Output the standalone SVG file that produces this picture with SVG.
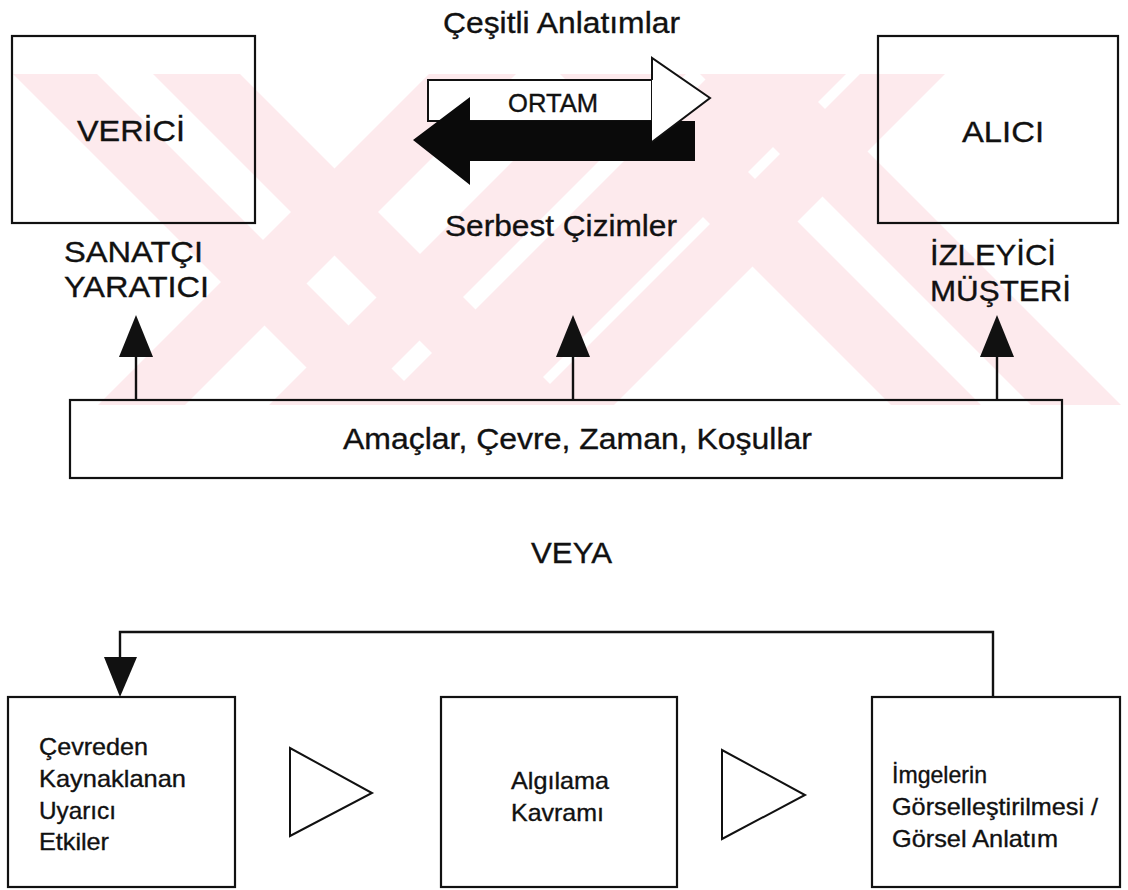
<svg xmlns="http://www.w3.org/2000/svg" width="1128" height="890" viewBox="0 0 1128 890">
<style>
.t{font-family:"Liberation Sans",Arial,Helvetica,sans-serif;fill:#111;stroke:#111;stroke-width:0.35;}
.big{font-size:30px;}
.sm{font-size:24px;}
.box{fill:none;stroke:#111;stroke-width:2.2;}
.ln{fill:none;stroke:#111;stroke-width:2.4;}
.wm{fill:#fdeaed;}
</style>
<defs>
<clipPath id="wmclip"><rect x="10" y="74" width="1118" height="331"/></clipPath>
</defs>
<rect width="1128" height="890" fill="#fff"/>
<g id="watermark" clip-path="url(#wmclip)">
<polygon class="wm" points="13,74 97,74 428,405 344,405"/>
<polygon class="wm" points="153,74 240,74 571,405 484,405"/>
<polygon class="wm" points="560,74 650,74 981,405 891,405"/>
<polygon class="wm" points="700,74 790,74 1121,405 1031,405"/>
<polygon class="wm" points="429,74 516,74 185,405 98,405"/>
<polygon class="wm" points="600,74 686,74 355,405 269,405"/>
<polygon class="wm" points="711,74 846,74 515,405 380,405"/>
<polygon class="wm" points="860,74 945,74 614,405 529,405"/>
</g>
<g id="title"><text class="t big" x="443" y="33" textLength="237" lengthAdjust="spacingAndGlyphs">Çeşitli Anlatımlar</text></g>
<g id="verici">
<rect class="box" x="12" y="36" width="243" height="187"/>
<text class="t big" x="77" y="141" textLength="108" lengthAdjust="spacingAndGlyphs">VERİCİ</text>
<text class="t big" x="64" y="262" textLength="139" lengthAdjust="spacingAndGlyphs">SANATÇI</text>
<text class="t big" x="64" y="297" textLength="145" lengthAdjust="spacingAndGlyphs">YARATICI</text>
</g>
<g id="alici">
<rect class="box" x="878" y="36" width="240" height="187"/>
<text class="t big" x="962" y="142" textLength="82" lengthAdjust="spacingAndGlyphs">ALICI</text>
<text class="t big" x="930" y="265" textLength="126" lengthAdjust="spacingAndGlyphs">İZLEYİCİ</text>
<text class="t big" x="930" y="301" textLength="141" lengthAdjust="spacingAndGlyphs">MÜŞTERİ</text>
</g>
<g id="ortam">
<rect x="428" y="80" width="224" height="41" fill="#fff" stroke="#111" stroke-width="2"/>
<polygon points="413,140 470,97 470,121 695,121 695,161 470,161 470,185" fill="#0a0a0a"/>
<polygon points="652,58 710,98 652,142" fill="#fff"/>
<path d="M652,80 V58 L710,98 L652,142" fill="none" stroke="#111" stroke-width="2"/>
<text class="t" x="508" y="112" font-size="25" textLength="90" lengthAdjust="spacingAndGlyphs">ORTAM</text>
</g>
<g id="serbest"><text class="t big" x="445" y="236" textLength="232" lengthAdjust="spacingAndGlyphs">Serbest Çizimler</text></g>
<g id="kosullar">
<rect class="box" x="70" y="400" width="992" height="78"/>
<text class="t big" x="343" y="449" textLength="469" lengthAdjust="spacingAndGlyphs">Amaçlar, Çevre, Zaman, Koşullar</text>
</g>
<g id="veya"><text class="t big" x="531" y="563" textLength="81" lengthAdjust="spacingAndGlyphs">VEYA</text></g>
<g id="box1">
<rect class="box" x="8" y="697" width="227" height="190"/>
<text class="t sm" x="39" y="755" textLength="109" lengthAdjust="spacingAndGlyphs">Çevreden</text>
<text class="t sm" x="39" y="787" textLength="147" lengthAdjust="spacingAndGlyphs">Kaynaklanan</text>
<text class="t sm" x="39" y="819" textLength="77" lengthAdjust="spacingAndGlyphs">Uyarıcı</text>
<text class="t sm" x="39" y="850" textLength="70" lengthAdjust="spacingAndGlyphs">Etkiler</text>
</g>
<g id="box2">
<rect class="box" x="441" y="697" width="236" height="190"/>
<text class="t sm" x="511" y="789" textLength="98" lengthAdjust="spacingAndGlyphs">Algılama</text>
<text class="t sm" x="511" y="821" textLength="93" lengthAdjust="spacingAndGlyphs">Kavramı</text>
</g>
<g id="box3">
<rect class="box" x="872" y="697" width="248" height="190"/>
<text class="t sm" x="892" y="783" textLength="95" lengthAdjust="spacingAndGlyphs">İmgelerin</text>
<text class="t sm" x="892" y="815" textLength="206" lengthAdjust="spacingAndGlyphs">Görselleştirilmesi /</text>
<text class="t sm" x="892" y="847" textLength="166" lengthAdjust="spacingAndGlyphs">Görsel Anlatım</text>
</g>
<g id="connectors">
<line class="ln" x1="136" y1="357" x2="136" y2="400"/>
<polygon points="136,315 119,357 153,357" fill="#111"/>
<line class="ln" x1="573" y1="357" x2="573" y2="400"/>
<polygon points="573,315 556,357 590,357" fill="#111"/>
<line class="ln" x1="997" y1="357" x2="997" y2="400"/>
<polygon points="997,315 980,357 1014,357" fill="#111"/>
<path class="ln" d="M993,697 V632 H120 V660"/>
<polygon points="120,697 104,657 137,657" fill="#111"/>
<polygon points="290,748 290,836 372,793" fill="none" stroke="#111" stroke-width="2"/>
<polygon points="722,750 722,839 805,795" fill="none" stroke="#111" stroke-width="2"/>
</g>
</svg>
